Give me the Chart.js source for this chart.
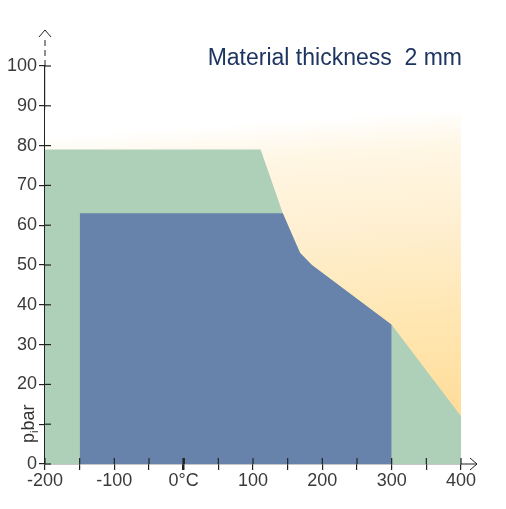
<!DOCTYPE html>
<html>
<head>
<meta charset="utf-8">
<script src="https://cdn.jsdelivr.net/npm/chart.js@4"></script>
<style>
html,body{margin:0;padding:0;background:#fff;}
canvas{display:block;}
</style>
</head>
<body>
<canvas id="chart" width="506" height="509"></canvas>
<script>
// temperature (°C) / pressure (bar) envelopes
const outerT = [-200, 111, 143, 158, 168, 185, 300, 400];
const outerP = [79, 79, 63, 57, 53, 50, 35, 12];

const innerT = [-150, 143, 158, 168, 185, 300];
const innerP = [63, 63, 57, 53, 50, 35];

const shadeT = [-200, 400];
const shadeP = [89, 89];

const xTickLabels = {"-200":"-200","-100":"-100","0":"0°C","100":"100","200":"200","300":"300","400":"400"};
const yHiddenTicks = [10];

const titleText = "Material thickness  2 mm";

const toPts=(xs,ys)=>xs.map((x,i)=>({x:x,y:ys[i]}));

const FONT = "'Liberation Sans', Arial, sans-serif";

function shadeGradient(ctx){
const chart=ctx.chart;
const a=chart.chartArea;
if(!a) return '#ffe3a6';
const ys=chart.scales.y;
const top=ys.getPixelForValue(shadeP[0]);
const g=chart.ctx.createLinearGradient(a.right-20,top,a.right,a.bottom-50);
g.addColorStop(0,'rgba(255,255,255,1)');
g.addColorStop(0.07,'#fffaf0');
g.addColorStop(0.13,'#fff6e3');
g.addColorStop(0.35,'#fff0d3');
g.addColorStop(0.63,'#ffe8b7');
g.addColorStop(1,'#ffdd99');
return g;
}

const decor={
id:'decor',
afterDraw(chart){
const c=chart.ctx;
const a=chart.chartArea;
const xs=chart.scales.x, ys=chart.scales.y;
c.save();
c.strokeStyle='#222';
c.lineWidth=1.2;

// inner halves of ticks
xs.ticks.forEach(t=>{
const px=xs.getPixelForValue(t.value);
c.lineWidth=t.value===0?2.5:1.2;
c.beginPath();c.moveTo(px,a.bottom);c.lineTo(px,a.bottom-6);c.stroke();
});
c.lineWidth=1.2;
ys.ticks.forEach(t=>{
const py=ys.getPixelForValue(t.value);
c.beginPath();c.moveTo(a.left,py);c.lineTo(a.left+6,py);c.stroke();
});

// y axis dashed extension + arrow
c.lineWidth=1;
c.setLineDash([6,4]);
c.beginPath();c.moveTo(a.left,a.top);c.lineTo(a.left,a.top-30);c.stroke();
c.setLineDash([]);
c.beginPath();
c.moveTo(a.left-6,a.top-29);c.lineTo(a.left,a.top-36);c.lineTo(a.left+6,a.top-29);
c.stroke();

// x axis extension + arrow
c.beginPath();c.moveTo(a.right,a.bottom);c.lineTo(a.right+16,a.bottom);c.stroke();
c.beginPath();
c.moveTo(a.right+9,a.bottom-6);c.lineTo(a.right+16,a.bottom);c.lineTo(a.right+9,a.bottom+6);
c.stroke();

// title
c.fillStyle='#1e3560';
c.font='23px '+FONT;
c.textAlign='right';
c.textBaseline='alphabetic';
c.fillText(titleText,a.right+1,a.top-1);

// y axis label  p_i bar
c.translate(a.left-11,ys.getPixelForValue(0)-21);
c.rotate(-Math.PI/2);
c.fillStyle='#333';
c.textAlign='left';
c.font='18px '+FONT;
c.fillText('p',0,0);
let w=c.measureText('p').width;
c.font='11px '+FONT;
c.fillText('i',w,4);
w+=c.measureText('i').width;
c.font='18px '+FONT;
c.fillText('bar',w,0);
c.restore();
}
};

new Chart(document.getElementById('chart'),{
type:'line',
data:{
datasets:[
{
label:'inner',
data:toPts(innerT,innerP),
backgroundColor:'#6783ab',
borderWidth:0,
pointRadius:0,
fill:'origin'
},
{
label:'outer',
data:toPts(outerT,outerP),
backgroundColor:'#aed0b8',
borderWidth:0,
pointRadius:0,
fill:'origin'
},
{
label:'shade',
data:toPts(shadeT,shadeP),
backgroundColor:shadeGradient,
borderWidth:0,
pointRadius:0,
fill:'origin'
}
]
},
options:{
responsive:false,
animation:false,
layout:{padding:{top:66,right:45,left:0,bottom:0}},
plugins:{legend:{display:false},tooltip:{enabled:false},title:{display:false}},
scales:{
x:{
type:'linear',
min:-200,max:400,
afterFit(s){s.height=45;},
ticks:{
stepSize:50,autoSkip:false,maxRotation:0,
color:'#3a3a3a',font:{family:FONT,size:18},padding:0,
callback:v=>xTickLabels[String(v)]||''
},
grid:{
drawOnChartArea:false,drawTicks:true,tickLength:6,color:'#222',
lineWidth:c=>c.tick&&c.tick.value===0?2.5:1.2
},
border:{display:true,color:'#222',width:1.2}
},
y:{
type:'linear',
min:0,max:100,
afterFit(s){s.width=45;},
ticks:{
stepSize:10,
color:'#3a3a3a',font:{family:FONT,size:18},padding:2,
callback:v=>yHiddenTicks.includes(v)?'':v
},
grid:{drawOnChartArea:false,drawTicks:true,tickLength:6,color:'#222',lineWidth:1.2},
border:{display:true,color:'#222',width:1.2}
}
}
},
plugins:[decor]
});
</script>
</body>
</html>
